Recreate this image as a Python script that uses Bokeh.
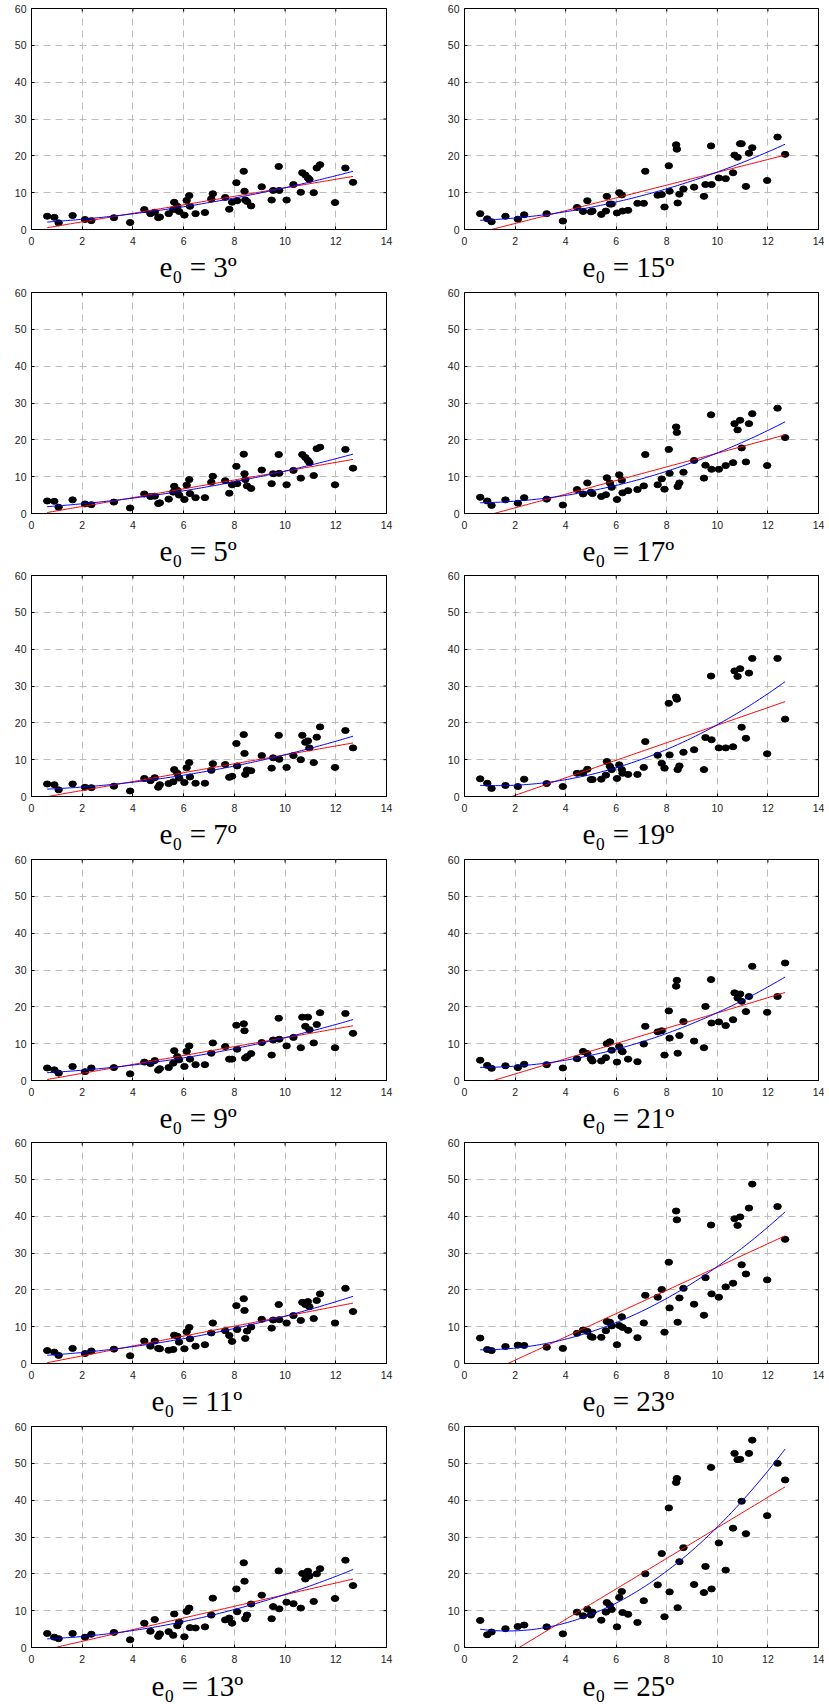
import numpy as np
from bokeh.plotting import figure
from bokeh.layouts import column, row
from bokeh.models import Range1d, FixedTicker, Title, ColumnDataSource
from bokeh.embed import file_html
from bokeh.resources import INLINE

# ---------------- data ----------------
x_vals = [0.62, 0.90, 1.07, 1.62, 2.11, 2.36, 3.25, 3.89, 4.45, 4.69, 4.86, 5.00, 5.06, 5.41,
          5.59, 5.63, 5.75, 5.82, 6.03, 6.12, 6.22, 6.25, 6.47, 6.84, 7.09, 7.15, 7.64, 7.80,
          7.91, 8.08, 8.11, 8.37, 8.40, 8.43, 8.50, 8.66, 9.08, 9.47, 9.53, 9.75, 9.77, 10.06,
          10.33, 10.62, 10.68, 10.80, 10.90, 10.96, 11.13, 11.25, 11.38, 11.97, 12.38, 12.68]

y_e03 = [3.6, 3.3, 1.8, 3.8, 2.7, 2.4, 3.2, 1.9, 5.4, 4.3, 4.7, 3.2, 3.4, 4.3, 5.4, 7.4, 6.3, 4.9,
         3.9, 7.9, 9.2, 6.3, 4.3, 4.6, 8.3, 9.7, 8.7, 5.5, 7.4, 12.7, 7.8, 15.8, 10.4, 8.0, 7.6,
         6.4, 11.6, 8.0, 10.6, 17.1, 10.6, 8.0, 12.2, 10.1, 15.4, 14.8, 14.0, 13.6, 10.0, 16.7,
         17.6, 7.3, 16.7, 12.8]
y_e05 = [3.4, 3.3, 1.7, 3.7, 2.6, 2.4, 3.1, 1.5, 5.3, 4.6, 4.7, 2.7, 2.9, 3.9, 5.8, 7.4, 6.3, 5.0,
         3.8, 7.7, 9.2, 5.4, 4.3, 4.3, 8.5, 10.1, 8.9, 5.5, 7.8, 12.8, 8.1, 16.1, 10.8, 9.2, 7.5,
         6.8, 11.8, 8.1, 10.8, 16.0, 10.9, 7.8, 11.7, 9.6, 16.0, 15.2, 14.4, 13.8, 10.3, 17.6,
         18.0, 7.8, 17.4, 12.3]
y_e07 = [3.4, 3.2, 1.8, 3.4, 2.5, 2.4, 2.8, 1.5, 4.9, 4.3, 5.1, 2.5, 3.2, 3.5, 4.0, 7.3, 6.3, 5.0,
         3.8, 7.8, 9.2, 5.3, 3.6, 3.6, 7.1, 8.9, 8.7, 5.2, 5.5, 14.4, 8.3, 16.8, 11.7, 6.0, 7.2,
         7.0, 11.1, 7.7, 10.5, 16.6, 10.1, 7.9, 11.1, 10.0, 16.6, 14.7, 15.1, 13.2, 9.2, 16.1,
         18.9, 7.9, 17.9, 13.2]
y_e09 = [3.4, 2.9, 2.0, 3.8, 2.4, 3.4, 3.5, 1.8, 5.0, 4.6, 5.4, 2.8, 3.2, 3.5, 4.7, 8.1, 6.5, 5.6,
         3.8, 7.9, 9.4, 5.8, 4.3, 4.3, 7.4, 10.2, 9.2, 5.8, 5.8, 15.0, 8.5, 15.4, 13.5, 6.1, 6.5,
         7.3, 10.3, 6.9, 11.0, 16.9, 11.2, 9.4, 11.7, 8.9, 17.2, 14.7, 17.2, 13.8, 10.2, 15.2,
         18.4, 8.9, 18.2, 12.8]
y_e11 = [3.5, 3.1, 2.2, 4.1, 2.7, 3.4, 3.9, 2.1, 6.1, 4.7, 6.1, 4.1, 4.0, 3.6, 3.8, 7.7, 7.4, 5.8,
         4.0, 8.6, 9.8, 6.7, 4.7, 5.1, 8.3, 11.0, 8.9, 7.6, 6.0, 15.7, 9.2, 17.6, 14.4, 6.8, 8.8,
         9.9, 12.0, 9.6, 11.8, 16.0, 11.9, 11.0, 13.0, 11.7, 16.6, 16.0, 16.8, 15.4, 12.2, 17.1,
         18.9, 11.0, 20.4, 14.1]
y_e13 = [3.8, 2.8, 2.4, 3.8, 2.8, 3.6, 4.1, 2.1, 6.6, 4.4, 7.6, 3.0, 3.7, 4.3, 3.3, 9.1, 5.9, 6.9,
         2.9, 9.8, 10.7, 5.4, 5.3, 5.6, 8.8, 13.4, 7.5, 8.0, 6.6, 15.9, 9.7, 23.0, 18.0, 7.8, 8.8,
         11.8, 14.2, 7.8, 11.1, 20.8, 10.5, 12.3, 11.9, 10.7, 20.1, 18.6, 20.7, 19.4, 12.5, 20.0,
         21.4, 13.3, 23.7, 16.8]
y_e15 = [4.3, 2.9, 2.1, 3.6, 2.8, 4.0, 4.3, 2.3, 6.0, 4.9, 7.8, 4.8, 5.0, 4.1, 5.0, 9.0, 6.9, 6.9,
         4.5, 10.0, 9.4, 5.0, 5.2, 7.1, 7.1, 15.8, 9.3, 9.5, 6.1, 17.3, 10.4, 23.0, 21.8, 7.2, 9.6,
         11.0, 11.5, 9.0, 12.2, 22.7, 12.2, 14.0, 13.8, 15.4, 20.2, 19.6, 23.3, 23.3, 11.7, 20.7,
         22.2, 13.3, 25.1, 20.4]
y_e17 = [4.4, 3.4, 2.2, 3.7, 2.8, 4.3, 3.9, 2.3, 6.5, 5.3, 8.3, 5.8, 5.4, 4.6, 5.1, 9.7, 8.3, 7.1,
         3.8, 10.5, 9.0, 5.6, 6.2, 6.5, 7.5, 16.0, 7.8, 9.4, 6.6, 17.4, 10.9, 23.5, 22.0, 7.3, 8.3,
         11.2, 14.4, 9.6, 13.1, 26.8, 12.0, 12.0, 13.0, 13.8, 24.4, 22.7, 25.3, 17.8, 14.0, 24.4,
         27.1, 13.0, 28.6, 20.6]
y_e19 = [4.8, 3.6, 2.2, 3.0, 2.7, 4.7, 3.5, 2.7, 6.3, 6.4, 7.4, 4.6, 4.6, 4.7, 5.8, 9.5, 8.2, 7.3,
         4.9, 8.6, 7.3, 6.3, 6.0, 6.0, 7.9, 14.9, 11.2, 9.0, 7.7, 25.3, 11.3, 27.0, 26.4, 7.3, 8.3,
         12.0, 12.7, 7.3, 16.0, 32.7, 15.4, 13.2, 13.2, 13.5, 34.1, 32.6, 34.7, 18.8, 15.8, 33.5,
         37.5, 11.6, 37.5, 21.0]
y_e21 = [5.5, 4.1, 3.3, 4.0, 3.5, 4.4, 4.3, 3.4, 5.9, 7.9, 7.3, 5.9, 5.3, 5.3, 6.2, 10.0, 10.5, 8.2,
         5.0, 9.2, 8.0, 7.8, 5.8, 5.1, 9.9, 14.7, 13.2, 13.5, 6.9, 18.9, 11.5, 25.6, 27.2, 7.4, 12.2,
         16.0, 10.7, 8.9, 20.1, 27.4, 15.6, 15.9, 14.9, 16.5, 23.8, 22.4, 23.5, 21.5, 18.7, 22.8,
         31.0, 18.5, 22.8, 31.9]
y_e23 = [6.9, 3.8, 3.5, 4.6, 5.0, 4.9, 4.4, 4.1, 8.2, 9.1, 8.7, 7.3, 7.1, 7.1, 8.9, 11.4, 11.2, 10.2,
         5.1, 10.3, 12.7, 9.8, 9.0, 7.0, 11.0, 18.5, 18.0, 20.1, 8.5, 27.5, 15.1, 41.4, 39.0, 11.2,
         17.8, 20.4, 16.1, 13.1, 23.3, 37.6, 18.9, 18.0, 20.8, 21.8, 39.3, 37.5, 39.8, 26.8, 24.3,
         42.2, 48.7, 22.7, 42.6, 33.7]
y_e25 = [7.35, 3.45, 4.2, 5.1, 5.7, 6.1, 5.6, 3.7, 9.6, 8.6, 10.4, 8.8, 9.6, 7.4, 9.6, 12.2, 11.4,
         10.3, 5.6, 13.6, 15.2, 9.5, 9.0, 6.8, 12.7, 20.0, 17.0, 25.5, 8.35, 37.9, 15.1, 44.8, 45.9,
         10.8, 23.3, 27.1, 17.1, 14.9, 22.0, 48.9, 15.9, 28.4, 21.0, 32.4, 52.7, 51.0, 51.1, 39.7,
         30.9, 52.7, 56.3, 35.8, 50.0, 45.5]

left_angles = [3, 5, 7, 9, 11, 13]
right_angles = [15, 17, 19, 21, 23, 25]
series = {3: y_e03, 5: y_e05, 7: y_e07, 9: y_e09, 11: y_e11, 13: y_e13,
          15: y_e15, 17: y_e17, 19: y_e19, 21: y_e21, 23: y_e23, 25: y_e25}
x_ticks = [0, 2, 4, 6, 8, 10, 12, 14]
y_ticks = [0, 10, 20, 30, 40, 50, 60]
X_MAX = 14
Y_MAX = 60

TICK_FONT = "Liberation Sans"
TITLE_FONT = "Liberation Serif, DejaVu Serif"

ROW_H = [284, 283, 284, 283, 284, 286]
TOP = 8
FRAME_H = 221


def style_axis(ax):
    ax.axis_line_color = "black"
    ax.major_tick_line_color = "black"
    ax.major_tick_in = 3
    ax.major_tick_out = 0
    ax.minor_tick_line_color = None
    ax.major_label_text_font = TICK_FONT
    ax.major_label_text_font_size = "10.5px"
    ax.major_label_text_color = "#222222"


def make_fig(angle, col, r):
    height = ROW_H[r]
    bottom = height - TOP - FRAME_H
    if col == 0:
        width, mb_left, mb_right = 441, 31, 55
    else:
        width, mb_left, mb_right = 383, 23, 6
    p = figure(width=width, height=height, x_range=Range1d(0, X_MAX), y_range=Range1d(0, Y_MAX),
               output_backend="svg", toolbar_location=None,
               min_border_left=mb_left, min_border_right=mb_right,
               min_border_top=TOP, min_border_bottom=bottom)
    p.xaxis.ticker = FixedTicker(ticks=x_ticks)
    p.yaxis.ticker = FixedTicker(ticks=y_ticks)
    for ax in p.xaxis:
        style_axis(ax)
        ax.major_label_standoff = 7
    for ax in p.yaxis:
        style_axis(ax)
        ax.major_label_standoff = 5

    p.outline_line_color = "black"
    p.outline_line_width = 1
    p.xgrid.ticker = FixedTicker(ticks=x_ticks)
    p.ygrid.ticker = FixedTicker(ticks=y_ticks)
    for g in (p.xgrid, p.ygrid):
        g.grid_line_color = "#bdbdbd"
        g.grid_line_dash = "7 5"
        g.grid_line_width = 1

    # inward tick marks on the top and right edges (half of each dash is clipped by the frame)
    p.scatter(x=x_ticks, y=[Y_MAX] * len(x_ticks), marker="dash", size=6, angle=np.pi / 2,
              line_color="black", line_width=1)
    p.scatter(x=[X_MAX] * len(y_ticks), y=y_ticks, marker="dash", size=6,
              line_color="black", line_width=1)

    ys = series[angle]
    xa = np.array(x_vals)
    ya = np.array(ys)
    src = ColumnDataSource(dict(x=x_vals, y=ys))
    p.ellipse(x="x", y="y", width=7.5, height=6, width_units="screen", height_units="screen",
              source=src, fill_color="black", line_color="black")

    xl = np.linspace(xa.min(), xa.max(), 120)
    c1 = np.polyfit(xa, ya, 1)
    c2 = np.polyfit(xa, ya, 2)
    p.line(xl, np.polyval(c1, xl), line_color="red", line_width=1)
    p.line(xl, np.polyval(c2, xl), line_color="blue", line_width=1)

    if col == 0:
        offset = 128 if angle < 10 else 120
    else:
        offset = 118
    p.add_layout(Title(text=f"e\u2080 = {angle}\u00ba", align="left", offset=offset,
                       text_font=TITLE_FONT, text_font_size="29px", text_font_style="normal",
                       text_color="black", standoff=2 if r < 5 else 4), "below")
    return p


rows = []
for r in range(6):
    rows.append(row(make_fig(left_angles[r], 0, r), make_fig(right_angles[r], 1, r)))
layout = column(*rows)

open("out.html", "w").write(file_html(layout, INLINE))
